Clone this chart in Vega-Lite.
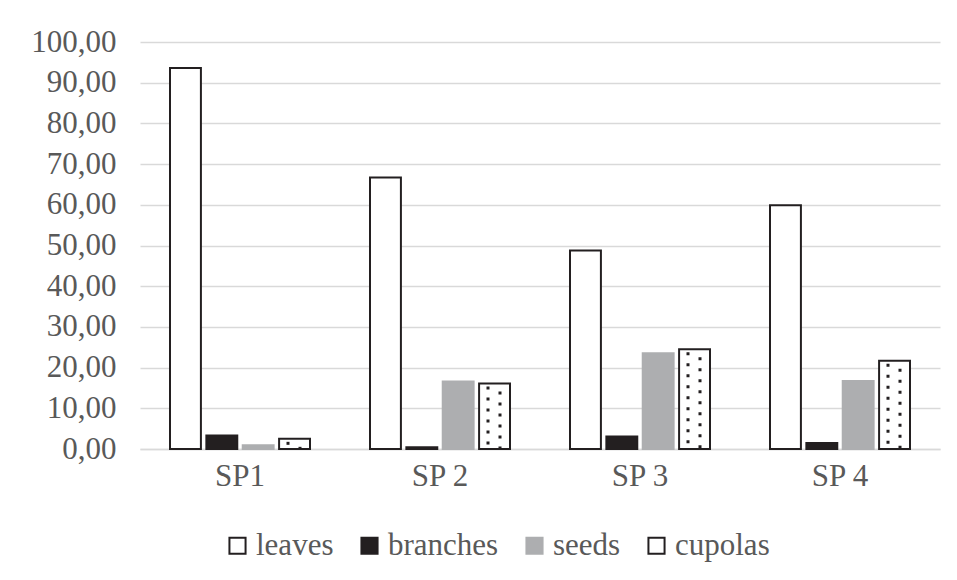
{
  "$schema": "https://vega.github.io/schema/vega-lite/v6.json",
  "width": 800,
  "height": 407,
  "autosize": {"type": "none"},
  "padding": {"left": 140, "top": 42, "right": 17, "bottom": 131},
  "background": "white",
  "config": {
    "view": {"stroke": null},
    "font": "Times New Roman",
    "axis": {"labelFont": "Times New Roman", "labelColor": "#595959", "labelFontSize": 31},
    "legend": {"labelFont": "Times New Roman", "labelColor": "#595959", "labelFontSize": 31}
  },
  "data": {
    "values": [
      {"site": "SP1", "part": "leaves", "value": 93.6},
      {"site": "SP1", "part": "branches", "value": 3.3},
      {"site": "SP1", "part": "seeds", "value": 0.9},
      {"site": "SP1", "part": "cupolas", "value": 2.5},
      {"site": "SP 2", "part": "leaves", "value": 66.7},
      {"site": "SP 2", "part": "branches", "value": 0.4},
      {"site": "SP 2", "part": "seeds", "value": 16.6},
      {"site": "SP 2", "part": "cupolas", "value": 16.1},
      {"site": "SP 3", "part": "leaves", "value": 48.8},
      {"site": "SP 3", "part": "branches", "value": 3.1},
      {"site": "SP 3", "part": "seeds", "value": 23.5},
      {"site": "SP 3", "part": "cupolas", "value": 24.5},
      {"site": "SP 4", "part": "leaves", "value": 59.9},
      {"site": "SP 4", "part": "branches", "value": 1.5},
      {"site": "SP 4", "part": "seeds", "value": 16.7},
      {"site": "SP 4", "part": "cupolas", "value": 21.7}
    ]
  },
  "encoding": {
    "x": {
      "field": "site", "type": "nominal", "sort": null,
      "scale": {"paddingInner": 0.3, "paddingOuter": 0.15},
      "axis": {"title": null, "labelAngle": 0, "ticks": false, "domainColor": "#d9d9d9", "domainWidth": 1.5, "labelPadding": 12, "grid": false, "labelFont": "Times New Roman"}
    }
  },
  "layer": [
    {
      "mark": {"type": "bar", "strokeWidth": 2},
      "encoding": {
        "xOffset": {
          "field": "part", "type": "nominal", "sort": ["leaves", "branches", "seeds", "cupolas"],
          "scale": {"domain": ["leaves", "branches", "seeds", "cupolas"], "paddingInner": 0.15}
        },
        "y": {
          "field": "value", "type": "quantitative",
          "scale": {"domain": [0, 100]},
          "axis": {
            "title": null, "values": [0,10,20,30,40,50,60,70,80,90,100],
            "domain": false, "ticks": false, "labelPadding": 24, "labelOverlap": false,
            "gridColor": "#d9d9d9", "gridWidth": 1.5, "labelFont": "Times New Roman",
            "labelExpr": "replace(format(datum.value, '.2f'), '.', ',')"
          }
        },
        "fill": {
          "field": "part", "type": "nominal",
          "scale": {"domain": ["leaves", "branches", "seeds", "cupolas"], "range": ["#ffffff", "#231f20", "#adaeb0", "#ffffff"]},
          "legend": {
            "title": null, "orient": "none", "direction": "horizontal",
            "legendX": 82, "legendY": 488, "symbolType": "square", "symbolSize": 260,
            "symbolStrokeWidth": 2, "columnPadding": 20, "labelOffset": 3,
            "labelFont": "Times New Roman", "labelFontSize": 31, "labelColor": "#595959"
          }
        },
        "stroke": {
          "field": "part", "type": "nominal",
          "scale": {"domain": ["leaves", "branches", "seeds", "cupolas"], "range": ["#231f20", "#231f20", "#adaeb0", "#231f20"]},
          "legend": null
        }
      }
    },
    {
      "transform": [{"filter": "datum.part == 'cupolas'"}],
      "mark": {"type": "rule", "color": "#231f20", "strokeWidth": 3, "strokeDash": [3, 8], "strokeDashOffset": -3, "xOffset": 48},
      "encoding": {
        "y": {"field": "value", "type": "quantitative"},
        "y2": {"datum": 0}
      }
    },
    {
      "transform": [{"filter": "datum.part == 'cupolas'"}],
      "mark": {"type": "rule", "color": "#231f20", "strokeWidth": 3, "strokeDash": [3, 8], "strokeDashOffset": 3, "xOffset": 60},
      "encoding": {
        "y": {"field": "value", "type": "quantitative"},
        "y2": {"datum": 0}
      }
    }
  ]
}
